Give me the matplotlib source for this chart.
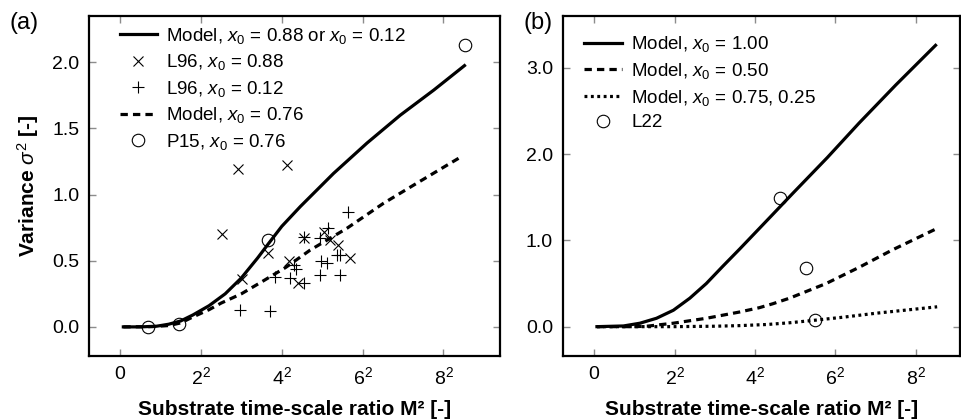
import matplotlib
matplotlib.use("Agg")
import matplotlib.pyplot as plt

plt.rcParams["font.family"] = ["Liberation Sans", "DejaVu Sans"]
plt.rcParams["mathtext.fontset"] = "custom"
plt.rcParams["mathtext.rm"] = "Liberation Sans"
plt.rcParams["mathtext.it"] = "Liberation Sans:italic"
plt.rcParams["mathtext.bf"] = "Liberation Sans:bold"

# ---- panel (a) data: x axis is M (ticks labelled M^2) ----
a_solid_m = [0.08, 0.5, 0.9, 1.2, 1.5, 1.8, 2.2, 2.6, 3.0, 3.4, 3.66, 4.0, 4.46, 5.28, 6.11, 6.93, 7.76, 8.52]
a_solid_v = [0.0, 0.0, 0.005, 0.02, 0.045, 0.09, 0.16, 0.25, 0.37, 0.52, 0.625, 0.76, 0.91, 1.16, 1.39, 1.60, 1.79, 1.975]
a_dash_m = [0.08, 0.8, 1.2, 1.5, 1.8, 2.2, 2.5, 3.0, 3.5, 4.1, 4.7, 5.61, 6.52, 7.34, 8.46]
a_dash_v = [0.0, 0.002, 0.01, 0.03, 0.075, 0.13, 0.18, 0.25, 0.34, 0.45, 0.58, 0.745, 0.935, 1.086, 1.29]

l96_088_m = [2.52, 2.91, 3.02, 3.66, 4.13, 4.18, 4.41, 4.54, 5.04, 5.20, 5.40, 5.68]
l96_088_v = [0.70, 1.19, 0.36, 0.56, 1.22, 0.50, 0.33, 0.67, 0.72, 0.66, 0.62, 0.52]
l96_012_m = [2.97, 3.71, 3.82, 4.21, 4.29, 4.34, 4.54, 4.54, 4.95, 4.98, 4.95, 5.12, 5.15, 5.36, 5.45, 5.43, 5.64]
l96_012_v = [0.13, 0.12, 0.38, 0.37, 0.47, 0.44, 0.68, 0.33, 0.67, 0.50, 0.39, 0.48, 0.75, 0.54, 0.54, 0.39, 0.87]
p15_m = [0.68, 1.46, 3.67, 8.54]
p15_v = [0.0, 0.02, 0.657, 2.13]

# ---- panel (b) data ----
b_x100_m = [0.07, 0.73, 1.14, 1.55, 1.97, 2.38, 2.79, 3.20, 3.62, 4.03, 4.44, 4.94, 5.8, 6.59, 7.5, 8.49]
b_x100_v = [0.0, 0.008, 0.04, 0.097, 0.19, 0.33, 0.50, 0.70, 0.90, 1.10, 1.30, 1.545, 1.96, 2.36, 2.80, 3.26]
b_x050_m = [0.07, 1.0, 1.31, 1.97, 2.79, 3.62, 4.11, 4.44, 4.86, 5.77, 6.6, 7.42, 8.49]
b_x050_v = [0.0, 0.0, 0.005, 0.04, 0.097, 0.17, 0.22, 0.265, 0.33, 0.50, 0.69, 0.89, 1.13]
b_x075_m = [0.07, 2.0, 3.0, 3.62, 4.3, 4.86, 5.44, 6.2, 7.0, 8.53]
b_x075_v = [0.0, 0.0, 0.005, 0.012, 0.025, 0.045, 0.072, 0.11, 0.155, 0.23]
l22_m = [4.61, 5.27, 5.48]
l22_v = [1.49, 0.68, 0.078]

xticks = [0, 2, 4, 6, 8]
xticklabels = ["0", "$2^2$", "$4^2$", "$6^2$", "$8^2$"]

LW = 2.3
DASH = (2.3, 1.6)
DOT = (0.9, 1.1)


def style_axes(ax):
    for s in ax.spines.values():
        s.set_linewidth(1.6)
    ax.tick_params(direction="in", length=5, width=1.0, color="0.55",
                   top=True, right=True, labelsize=14, pad=7)
    ax.set_xticks(xticks)
    ax.set_xticklabels(xticklabels)
    ax.set_xlabel("Substrate time-scale ratio M\u00b2 [-]", fontsize=15, fontweight="bold", labelpad=9)


fig = plt.figure(figsize=(9.62, 4.2), dpi=100)
ax1 = fig.add_axes([0.0925, 0.1524, 0.4273, 0.8095])
ax2 = fig.add_axes([0.585, 0.1524, 0.413, 0.8095])

ax1.plot(a_solid_m, a_solid_v, color="black", lw=LW, label="Model, $x_0$ = 0.88 or $x_0$ = 0.12")
ax1.plot(l96_088_m, l96_088_v, ls="none", marker="x", ms=7, mew=0.8, color="black", label="L96, $x_0$ = 0.88")
ax1.plot(l96_012_m, l96_012_v, ls="none", marker="+", ms=9, mew=0.8, color="black", label="L96, $x_0$ = 0.12")
ax1.plot(a_dash_m, a_dash_v, color="black", lw=LW, dashes=DASH, label="Model, $x_0$ = 0.76")
ax1.plot(p15_m, p15_v, ls="none", marker="o", ms=9, mew=0.8, mfc="none", color="black", label="P15, $x_0$ = 0.76")
ax1.set_xlim(-0.77, 9.4)
ax1.set_ylim(-0.22, 2.35)
ax1.set_yticks([0.0, 0.5, 1.0, 1.5, 2.0])
ax1.set_yticklabels(["0.0", "0.5", "1.0", "1.5", "2.0"])
style_axes(ax1)
ax1.set_ylabel(r"Variance $\sigma^2$ [-]", fontsize=15, fontweight="bold", labelpad=8)
ax1.legend(loc="upper left", bbox_to_anchor=(0.056, 0.994), frameon=False, fontsize=13.5,
           handlelength=2.0, handletextpad=0.5, labelspacing=0.35, borderaxespad=0.2, borderpad=0.2)
fig.text(0.01, 0.93, "(a)", fontsize=17)

ax2.plot(b_x100_m, b_x100_v, color="black", lw=LW, label="Model, $x_0$ = 1.00")
ax2.plot(b_x050_m, b_x050_v, color="black", lw=LW, dashes=DASH, label="Model, $x_0$ = 0.50")
ax2.plot(b_x075_m, b_x075_v, color="black", lw=LW, dashes=DOT, label="Model, $x_0$ = 0.75, 0.25")
ax2.plot(l22_m, l22_v, ls="none", marker="o", ms=9, mew=0.8, mfc="none", color="black", label="L22")
ax2.set_xlim(-0.78, 9.1)
ax2.set_ylim(-0.34, 3.6)
ax2.set_yticks([0.0, 1.0, 2.0, 3.0])
ax2.set_yticklabels(["0.0", "1.0", "2.0", "3.0"])
style_axes(ax2)
ax2.legend(loc="upper left", bbox_to_anchor=(0.035, 0.968), frameon=False, fontsize=13.5,
           handlelength=2.0, handletextpad=0.5, labelspacing=0.35, borderaxespad=0.2, borderpad=0.2)
fig.text(0.544, 0.93, "(b)", fontsize=17)

fig.savefig("out.png", dpi=100)
